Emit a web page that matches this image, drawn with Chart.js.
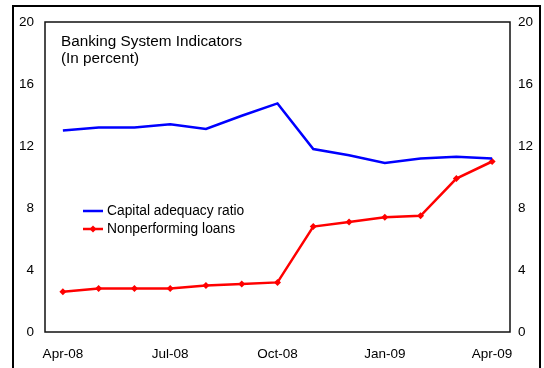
<!DOCTYPE html>
<html>
<head>
<meta charset="utf-8">
<script src="https://cdn.jsdelivr.net/npm/chart.js@4.4.1/dist/chart.umd.min.js"></script>
<style>
  html, body { margin: 0; padding: 0; background: #fff; }
  #wrap { position: relative; width: 544px; height: 368px; overflow: hidden; }
  #frame { position: absolute; left: 12px; top: 5px; width: 525px; height: 400px; border: 2.5px solid #000; box-sizing: content-box; pointer-events: none; }
  canvas { position: absolute; left: 0; top: 0; }
</style>
</head>
<body>
<div id="wrap">
  <canvas id="chart" width="544" height="368"></canvas>
  <div id="frame"></div>
</div>
<script>
// monthly categories, Apr-08 .. Apr-09
var months = ['Apr-08','May-08','Jun-08','Jul-08','Aug-08','Sep-08','Oct-08','Nov-08','Dec-08','Jan-09','Feb-09','Mar-09','Apr-09'];
var capitalAdequacy = [13.0, 13.2, 13.2, 13.4, 13.1, 13.95, 14.75, 11.8, 11.4, 10.9, 11.2, 11.3, 11.2];
var nonperforming   = [2.6, 2.8, 2.8, 2.8, 3.0, 3.1, 3.2, 6.8, 7.1, 7.4, 7.5, 9.9, 11.0];
var yTicks = [0, 4, 8, 12, 16, 20];
var titleLines = ['Banking System Indicators', '(In percent)'];

var FONT = '"Liberation Sans", Arial, sans-serif';

/* ── frame, title and in-plot legend ── */
var decor = {
  id: 'decor',
  afterDatasetsDraw: function(chart){
    var ctx = chart.ctx, a = chart.chartArea;
    ctx.save();
    // plot frame
    ctx.strokeStyle = '#111';
    ctx.lineWidth = 1.5;
    ctx.strokeRect(a.left, a.top, a.right - a.left, a.bottom - a.top);

    // title
    ctx.fillStyle = '#000';
    ctx.font = '15.3px ' + FONT;
    ctx.textBaseline = 'middle';
    ctx.textAlign = 'left';
    titleLines.forEach(function(t, i){ ctx.fillText(t, a.left + 16, a.top + 20 + i * 17); });

    // legend
    ctx.font = '13.8px ' + FONT;
    chart.data.datasets.forEach(function(ds, i){
      var y = a.top + 189 + i * 18;
      var x0 = a.left + 38, x1 = a.left + 58;
      ctx.strokeStyle = ds.borderColor;
      ctx.lineWidth = 2.5;
      ctx.beginPath(); ctx.moveTo(x0, y); ctx.lineTo(x1, y); ctx.stroke();
      if(ds.pointRadius > 0){
        ctx.fillStyle = ds.borderColor;
        ctx.beginPath();
        var r = ds.pointRadius, cx = (x0 + x1) / 2;
        ctx.moveTo(cx, y - r); ctx.lineTo(cx + r, y); ctx.lineTo(cx, y + r); ctx.lineTo(cx - r, y);
        ctx.closePath(); ctx.fill();
      }
      ctx.fillStyle = '#000';
      ctx.fillText(ds.label, x1 + 4, y);
    });
    ctx.restore();
  }
};

function yAxis(position, width, pad){
  return {
    type: 'linear', position: position, min: 0, max: 20,
    afterBuildTicks: function(s){ s.ticks = yTicks.map(function(v){ return { value: v }; }); },
    afterFit: function(s){ s.width = width; },
    grid: { display: false, drawTicks: false },
    border: { display: false },
    ticks: { color: '#000', padding: pad, font: { family: FONT, size: 13.5 } }
  };
}

new Chart(document.getElementById('chart'), {
  type: 'line',
  data: {
    labels: months,
    datasets: [
      { label: 'Capital adequacy ratio', data: capitalAdequacy, borderColor: '#0000ff', backgroundColor: '#0000ff',
        borderWidth: 2.5, pointRadius: 0, tension: 0, yAxisID: 'y' },
      { label: 'Nonperforming loans', data: nonperforming, borderColor: '#ff0000', backgroundColor: '#ff0000',
        borderWidth: 2.5, pointRadius: 3.5, pointStyle: 'rectRot', pointBorderWidth: 0, tension: 0, yAxisID: 'y' }
    ]
  },
  options: {
    responsive: false, animation: false,
    layout: { padding: { top: 22, left: 0, right: 0, bottom: 0 } },
    plugins: { legend: { display: false }, tooltip: { enabled: false } },
    scales: {
      x: {
        offset: true,
        afterFit: function(s){ s.height = 36; },
        grid: { display: false, drawTicks: false },
        border: { display: false },
        ticks: {
          autoSkip: false, maxRotation: 0, color: '#000', padding: 14,
          font: { family: FONT, size: 13.5 },
          callback: function(v, i){ return i % 3 === 0 ? months[i] : ''; }
        }
      },
      y: yAxis('left', 45, 11),
      y2: yAxis('right', 34, 8)
    }
  },
  plugins: [decor]
});
</script>
</body>
</html>
